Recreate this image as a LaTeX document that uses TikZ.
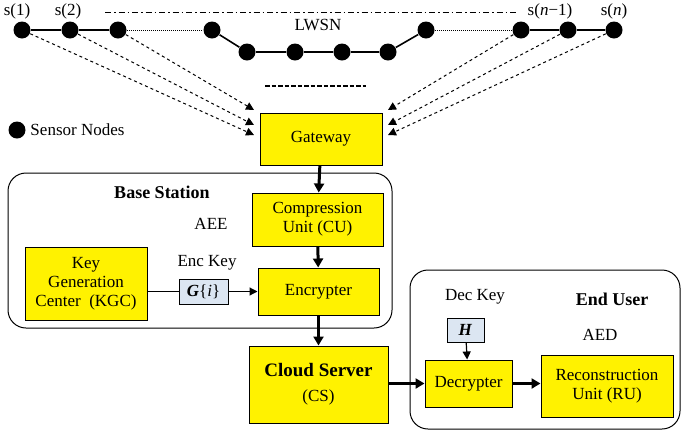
\documentclass[tikz,border=0pt]{standalone}
\usepackage{fontspec}
\setmainfont{Liberation Serif}
\usetikzlibrary{arrows.meta}
\begin{document}
\begin{tikzpicture}[x=1pt,y=-1pt,font=\fontsize{17}{19}\selectfont,line width=1pt,
 sn/.style={circle,fill=black,minimum size=17pt,inner sep=0},
 yb/.style={draw,fill=yellow,align=center,inner sep=0},
 kb/.style={draw,fill={rgb,255:red,220;green,230;blue,242},inner sep=0},
 frame/.style={draw,rounded corners=18pt},
 da/.style={dashed,line width=1pt,-{Triangle[length=8pt,width=8pt]}},
 ta/.style={line width=3pt,-{Triangle[length=9pt,width=10pt]}},
 na/.style={line width=1.2pt,-{Triangle[length=8pt,width=8pt]}}]
\useasboundingbox (0,0) rectangle (685,432);
% sensor nodes
\node[sn] (n1) at (22,30) {}; \node[sn] (n2) at (70,30) {}; \node[sn] (n3) at (118,30) {};
\node[sn] (n4) at (212,30) {}; \node[sn] (n5) at (247,52) {}; \node[sn] (n6) at (295,52) {};
\node[sn] (n7) at (342,52) {}; \node[sn] (n8) at (388,52) {}; \node[sn] (n9) at (426,30) {};
\node[sn] (n10) at (521,30) {}; \node[sn] (n11) at (568,30) {}; \node[sn] (n12) at (614,30) {};
\draw[line width=1.6pt] (n1)--(n2)--(n3) (n4)--(n5)--(n6)--(n7)--(n8)--(n9) (n10)--(n11)--(n12);
\draw[densely dotted] (n3)--(n4) (n9)--(n10);
\node at (17,11) {s(1)}; \node at (68,11) {s(2)};
\node at (550,11) {s(\textit{n}−1)}; \node at (614,11) {s(\textit{n})};
\node (lwsn) at (318,25) {LWSN};
\coordinate (dd1) at (105,12); \coordinate (dd2) at (516,12);
\draw[dash pattern=on 6pt off 3pt on 1.5pt off 3pt] (dd1)--(dd2);
\coordinate (sd1) at (265,86); \coordinate (sd2) at (366,86);
\draw[dash pattern=on 4.5pt off 2pt,line width=1.5pt] (sd1)--(sd2);
\node[sn] (leg) at (17,130) {}; \node[anchor=west,inner sep=1pt] at (29,130) {Sensor Nodes};
% gateway
\node[yb,minimum width=122pt,minimum height=52pt] (gw) at (321,139) {Gateway};
\coordinate (l1) at (254,110); \coordinate (l2) at (254,125); \coordinate (l3) at (254,135);
\coordinate (r1) at (388,110); \coordinate (r2) at (388,125); \coordinate (r3) at (388,135);
\draw[da] (n3)--(l1); \draw[da] (n2)--(l2); \draw[da] (n1)--(l3);
\draw[da] (n10)--(r1); \draw[da] (n11)--(r2); \draw[da] (n12)--(r3);
% base station
\draw[frame] (8,173) rectangle (392,328);
\node[font=\fontsize{18}{20}\selectfont\bfseries] at (162,192) {Base Station};
\node at (211,224) {AEE};
\node at (207,263) {Enc Key};
\node[yb,minimum width=131pt,minimum height=53pt] (cu) at (317.5,219.5) {Compression\\Unit (CU)};
\node[yb,minimum width=121pt,minimum height=47pt] (enc) at (318.5,291.5) {Encrypter};
\node[yb,minimum width=122pt,minimum height=73pt] (kgc) at (86,283.5) {Key\\Generation\\Center\enspace(KGC)};
\node[kb,minimum width=49pt,minimum height=25pt] (g) at (203.5,291.5) {\textbf{\textit{G}}\{\textit{i}\}};
\draw[line width=1.2pt] (kgc.east|-g)--(g); \draw[na] (g)--(enc);
\draw[ta] (gw)--(cu); \draw[ta] (cu)--(enc);
% cloud
\node[yb,minimum width=139pt,minimum height=77pt] (cs) at (318.5,384.5) {\fontsize{19}{21}\selectfont\bfseries Cloud Server\\[6pt]\fontsize{17}{19}\selectfont(CS)};
\draw[ta] (enc)--(cs);
% end user
\draw[frame] (410,270) rectangle (680,429);
\node at (475,297) {Dec Key};
\node[font=\fontsize{18}{20}\selectfont\bfseries] at (612,299) {End User};
\node at (600,335) {AED};
\node[kb,minimum width=37pt,minimum height=24pt] (h) at (465.5,330) {\textbf{\textit{H}}};
\node[yb,minimum width=87pt,minimum height=47pt] (dec) at (468.5,383.5) {Decrypter};
\node[yb,minimum width=132pt,minimum height=62pt] (ru) at (607,386) {Reconstruction\\Unit (RU)};
\draw[na] (h)--(dec);
\draw[ta] (cs.east|-dec)--(dec); \draw[ta] (dec)--(dec-|ru.west);
\end{tikzpicture}
\end{document}
